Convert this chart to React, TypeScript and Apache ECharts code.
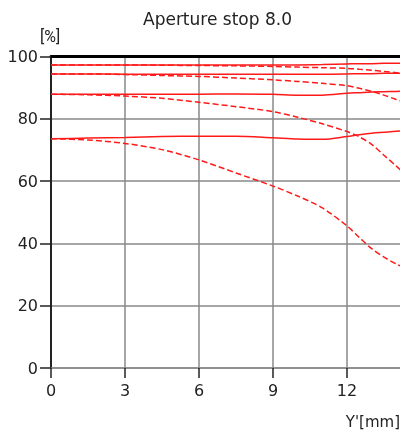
import React, { useEffect, useRef } from "react";
import * as echarts from "echarts";

const TITLE = "Aperture stop 8.0";
const Y_NAME = "[%]";
const X_NAME = "Y'[mm]";

const xs = [0, 1.5, 3, 4.5, 6, 7.5, 9, 10, 11, 12, 12.5, 13, 13.5, 14, 14.5];

const sag1 = [97.3, 97.3, 97.3, 97.3, 97.3, 97.3, 97.3, 97.3, 97.4, 97.6, 97.7, 97.7, 97.8, 97.8, 97.8];
const tan1 = [97.3, 97.3, 97.3, 97.2, 97.1, 97.0, 96.8, 96.6, 96.4, 96.2, 95.9, 95.6, 95.2, 94.8, 94.4];
const sag2 = [94.4, 94.4, 94.3, 94.3, 94.3, 94.3, 94.3, 94.3, 94.3, 94.4, 94.5, 94.5, 94.6, 94.6, 94.6];
const tan2 = [94.4, 94.4, 94.2, 93.9, 93.6, 93.1, 92.5, 92.0, 91.4, 90.6, 89.8, 88.8, 87.6, 86.2, 84.8];
const sag3 = [87.9, 87.9, 87.9, 87.9, 87.9, 88.0, 87.9, 87.6, 87.6, 88.2, 88.4, 88.6, 88.7, 88.8, 88.9];
const tan3 = [87.9, 87.7, 87.3, 86.6, 85.3, 83.9, 82.3, 80.5, 78.4, 75.9, 74.2, 71.8, 68.3, 64.8, 61.2];
const sag4 = [73.6, 73.8, 74.0, 74.3, 74.4, 74.4, 73.9, 73.5, 73.4, 74.3, 74.9, 75.4, 75.7, 76.0, 76.2];
const tan4 = [73.6, 73.2, 72.1, 70.1, 66.8, 62.6, 58.4, 55.2, 51.4, 45.6, 41.9, 38.3, 35.6, 33.4, 31.6];

const solidSeries = [sag1, sag2, sag3, sag4];
const dashedSeries = [tan1, tan2, tan3, tan4];

const FONT = "DejaVu Sans";
const RED = "#ff1a1a";

export default function App() {
  const ref = useRef<HTMLDivElement>(null);

  useEffect(() => {
    if (!ref.current) return;
    const chart = echarts.init(ref.current, undefined, { renderer: "svg" });

    const mk = (arr: number[], dashed: boolean) => ({
      type: "line",
      data: arr.map((v, i) => [xs[i], v]),
      smooth: 0.3,
      showSymbol: false,
      symbol: "none",
      xAxisIndex: 0,
      yAxisIndex: 0,
      lineStyle: {
        color: RED,
        width: 1.5,
        type: dashed ? [6, 3] : "solid",
      },
      z: 5,
    });

    chart.setOption({
      animation: false,
      title: [
        {
          text: TITLE,
          left: 143,
          top: 10,
          padding: 0,
          textStyle: { fontFamily: FONT, fontSize: 17, fontWeight: "normal", color: "#222" },
        },
        {
          text: Y_NAME,
          left: 40,
          top: 28,
          padding: 0,
          textStyle: { fontFamily: "Roboto", fontSize: 16, fontWeight: "normal", color: "#222" },
        },
        {
          text: X_NAME,
          right: 0,
          top: 414,
          padding: 0,
          textStyle: { fontFamily: FONT, fontSize: 15, fontWeight: "normal", color: "#222" },
        },
      ],
      grid: {
        left: 51,
        top: 56.5,
        right: -21,
        bottom: 65,
        containLabel: false,
        outerBoundsMode: "none",
      },
      xAxis: [
        {
          type: "value",
          min: 0,
          max: 15,
          interval: 3,
          position: "bottom",
          axisLine: { show: true, onZero: false, lineStyle: { color: "#888", width: 1.5 } },
          axisTick: { show: true, length: 10, lineStyle: { color: "#222", width: 1.5 } },
          axisLabel: {
            margin: 14,
            fontFamily: FONT,
            fontSize: 16,
            color: "#222",
            showMaxLabel: false,
            formatter: (v: number) => (v >= 15 ? "" : String(v)),
          },
          splitLine: { show: true, lineStyle: { color: "#888", width: 1.5 } },
        },
        {
          type: "value",
          min: 0,
          max: 15,
          position: "top",
          axisLine: { show: true, onZero: false, lineStyle: { color: "#000", width: 3 } },
          axisTick: { show: false },
          axisLabel: { show: false },
          splitLine: { show: false },
        },
      ],
      yAxis: {
        type: "value",
        min: 0,
        max: 100,
        interval: 20,
        axisLine: { show: true, onZero: false, lineStyle: { color: "#222", width: 2 } },
        axisTick: { show: true, length: 11, lineStyle: { color: "#222", width: 1.5 } },
        axisLabel: {
          margin: 13,
          fontFamily: FONT,
          fontSize: 16,
          color: "#222",
        },
        splitLine: { show: true, lineStyle: { color: "#888", width: 1.5 } },
      },
      series: [
        ...solidSeries.map((s) => mk(s, false)),
        ...dashedSeries.map((s) => mk(s, true)),
      ],
    });

    return () => chart.dispose();
  }, []);

  return (
    <div
      ref={ref}
      style={{ position: "fixed", left: 0, top: 0, width: 400, height: 433 }}
    />
  );
}
